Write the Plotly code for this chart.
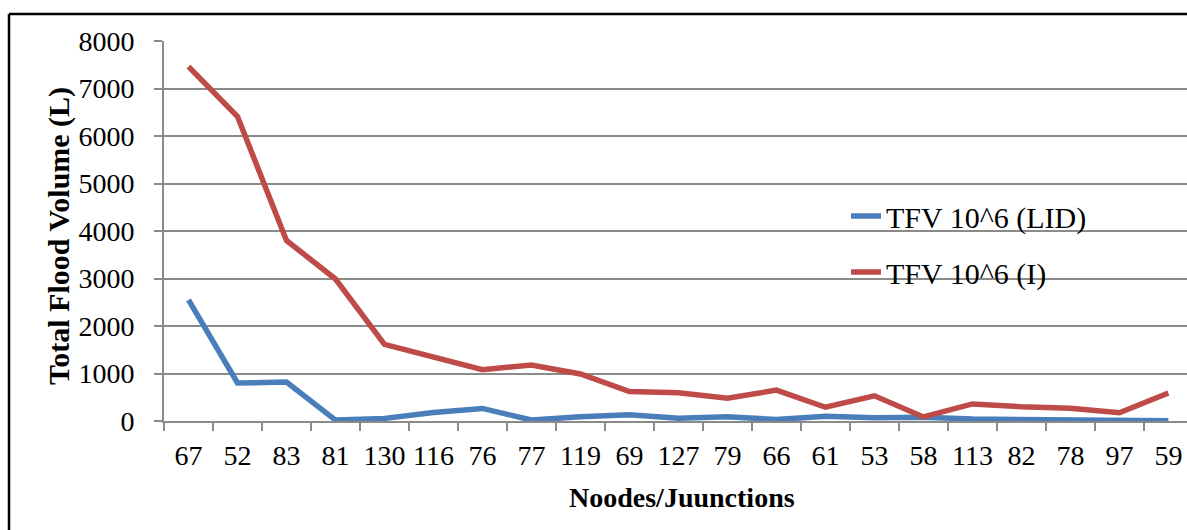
import plotly.graph_objects as go

nodes = ["67", "52", "83", "81", "130", "116", "76", "77", "119", "69", "127",
         "79", "66", "61", "53", "58", "113", "82", "78", "97", "59"]
tfv_lid = [2550, 800, 820, 20, 55, 180, 265, 20, 90, 130, 60,
           90, 30, 100, 70, 80, 40, 30, 10, 5, 5]
tfv_i = [7460, 6410, 3800, 2990, 1615, 1340, 1080, 1180, 990, 620, 595,
         480, 650, 290, 530, 85, 360, 300, 270, 175, 590]

series_names = ["TFV 10^6 (LID)", "TFV 10^6 (I)"]
series_colors = ["#4a7ebb", "#be4b48"]
y_title = "Total Flood Volume (L)"
x_title = "Noodes/Juunctions"

FONT = "Liberation Serif, Times New Roman, serif"
GRID = "#8a8a8a"

fig = go.Figure()
for name, vals, col, grp in zip(series_names, [tfv_lid, tfv_i], series_colors, ["a", "b"]):
    fig.add_trace(go.Scatter(
        x=nodes, y=vals, mode="lines", name=name, legendgroup=grp,
        line=dict(color=col, width=5.5),
    ))

W, H = 1187, 530
L, R, T, B = 164, 0, 41, 109
pw = W - L - R
ph = H - T - B

def px_x(p):
    return (p - L) / pw

def px_y(p):
    return (H - B - p) / ph

fig.update_layout(
    width=W, height=H,
    margin=dict(l=L, r=R, t=T, b=B, pad=0, autoexpand=False),
    paper_bgcolor="white", plot_bgcolor="white",
    font=dict(family=FONT, color="black", size=28),
    showlegend=True,
    legend=dict(
        x=px_x(846), y=px_y(190), xanchor="left", yanchor="top",
        font=dict(family=FONT, size=30, color="black"),
        bgcolor="rgba(0,0,0,0)", borderwidth=0,
        traceorder="grouped", tracegroupgap=14,
    ),
    xaxis=dict(
        type="category", range=[-0.5, 20.38], automargin=False,
        showgrid=False, zeroline=False,
        showline=True, linecolor=GRID, linewidth=2,
        ticks="outside", tickson="boundaries", ticklen=8, tickwidth=2, tickcolor=GRID,
        tickfont=dict(family=FONT, size=28, color="black"),
        tickangle=0, ticklabelstandoff=8,
    ),
    yaxis=dict(
        range=[0, 8000], dtick=1000, tick0=0, automargin=False,
        showgrid=True, gridcolor=GRID, gridwidth=2,
        zeroline=False,
        showline=True, linecolor=GRID, linewidth=2,
        ticks="outside", ticklen=8, tickwidth=2, tickcolor=GRID,
        tickfont=dict(family=FONT, size=28, color="black"),
        ticklabelstandoff=14,
    ),
    annotations=[
        dict(text="<b>" + x_title + "</b>", xref="paper", yref="paper",
             x=px_x(682), y=px_y(497), xanchor="center", yanchor="middle",
             showarrow=False, font=dict(family=FONT, size=28, color="black")),
        dict(text="<b>" + y_title + "</b>", xref="paper", yref="paper",
             x=px_x(59), y=px_y(236), xanchor="center", yanchor="middle",
             textangle=-90, showarrow=False,
             font=dict(family=FONT, size=30, color="black")),
    ],
    shapes=[
        dict(type="line", xref="paper", yref="paper",
             x0=px_x(9), x1=px_x(1200), y0=px_y(14), y1=px_y(14),
             line=dict(color="black", width=2.5)),
        dict(type="line", xref="paper", yref="paper",
             x0=px_x(9), x1=px_x(9), y0=px_y(14), y1=px_y(540),
             line=dict(color="black", width=2.5)),
    ],
)

fig.write_html(
    "out.html",
    config={"displayModeBar": False},
    post_script="document.body.style.margin='0';document.body.style.overflow='hidden';",
)
